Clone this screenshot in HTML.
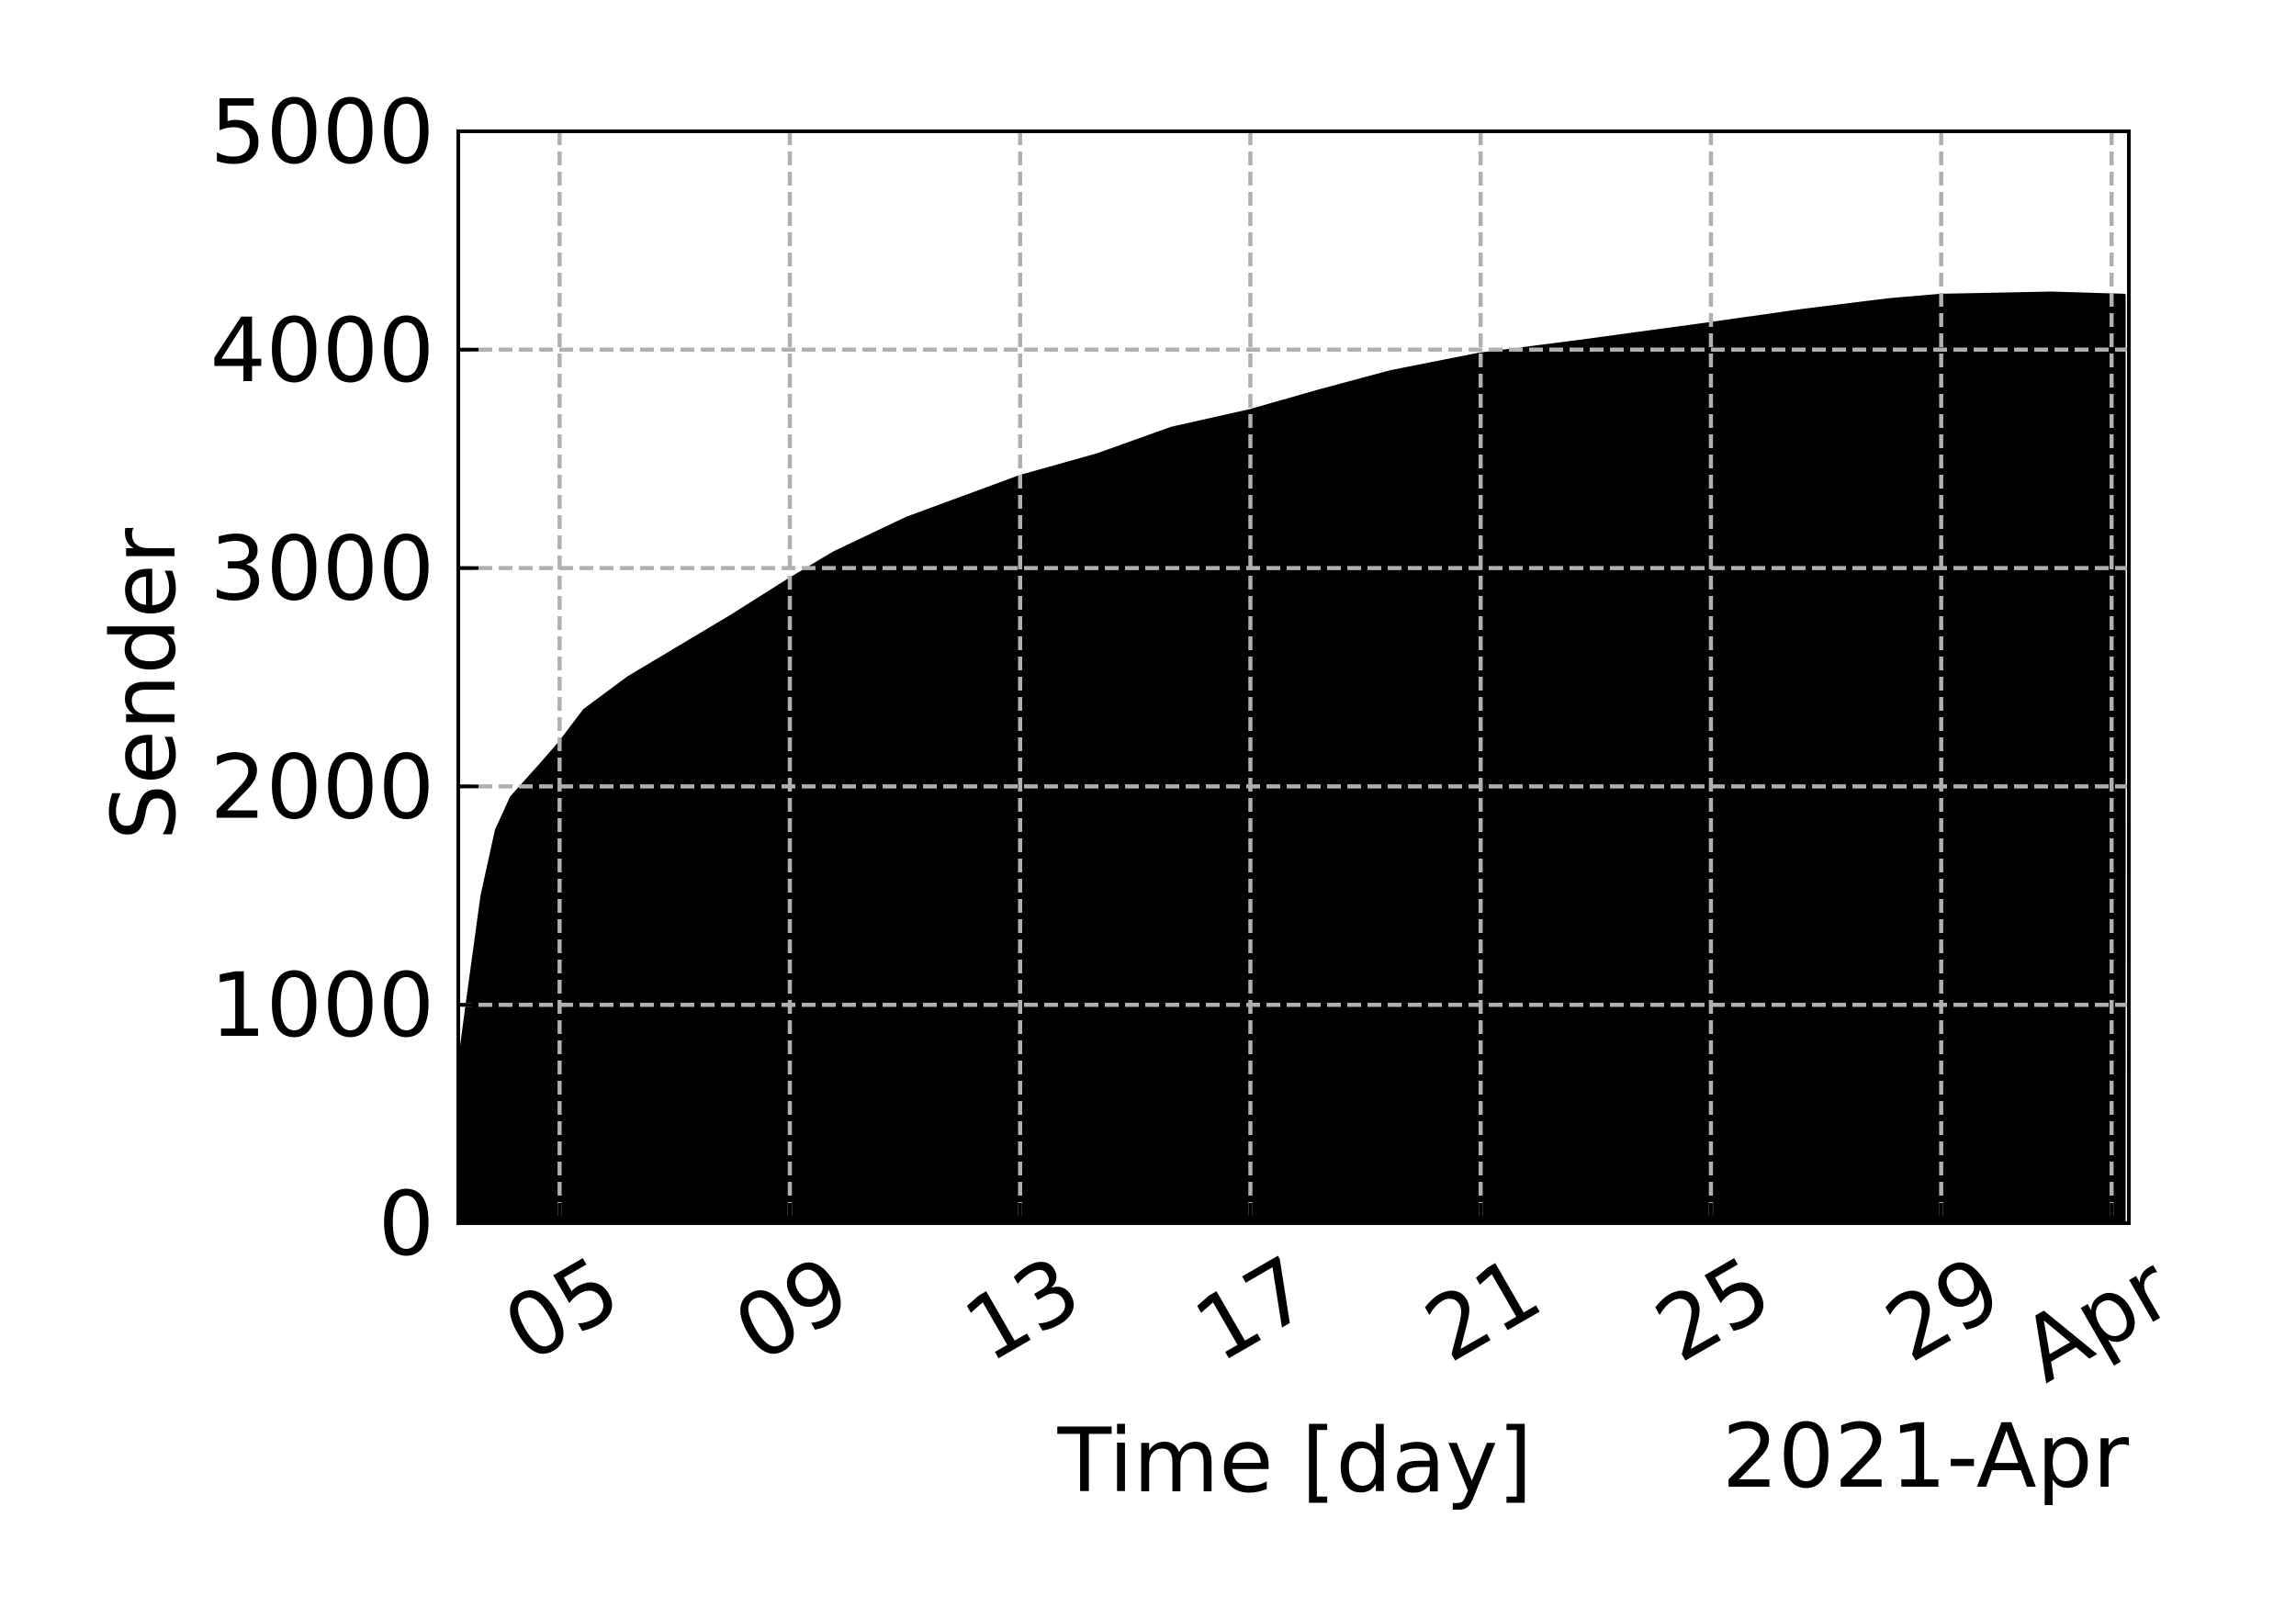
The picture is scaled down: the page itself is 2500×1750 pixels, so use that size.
<!DOCTYPE html>
<html><head><meta charset="utf-8"><style>
html,body{margin:0;padding:0;background:#fff}
svg{display:block}
text{font-family:"DejaVu Sans","Liberation Sans",sans-serif;fill:#000}
</style></head><body>
<svg id="chart" width="2500" height="1750" viewBox="0 0 2500 1750" xmlns="http://www.w3.org/2000/svg">
<g id="plot"></g>
</svg>
<script>
// data: day of April 2021 (fractional) and cumulative sender counts
const days = [3.24,3.29,3.39,3.65,3.90,4.16,4.67,5.0,5.43,6.20,6.96,7.98,9.0,9.76,11.04,13.0,14.35,15.62,16.97,18.17,19.44,20.97,22.76,24.97,26.58,28.11,29.0,30.91,32.18];
const senders = [750,800,1000,1500,1800,1950,2100,2200,2350,2500,2620,2780,2950,3070,3230,3420,3520,3640,3720,3810,3900,3980,4040,4120,4180,4230,4250,4260,4250];
const yTicks = [0,1000,2000,3000,4000,5000];
const xTickDays = [5,9,13,17,21,25,29,31.96];
const xTickLabels = ["05","09","13","17","21","25","29","Apr"];

const L=499,R=2318,T=143,B=1332;
const dMin=3.24,dMax=32.26;
const sx=d=>L+(d-dMin)/(dMax-dMin)*(R-L);
const sy=v=>B-v/5000*(B-T);
const NS="http://www.w3.org/2000/svg";
const g=document.getElementById('plot');
function mk(tag,attrs,parent){const e=document.createElementNS(NS,tag);for(const k in attrs)e.setAttribute(k,attrs[k]);(parent||g).appendChild(e);return e;}

// area
let d=`M${sx(days[0])},${sy(0)}`;
days.forEach((x,i)=>{d+=` L${sx(x).toFixed(1)},${sy(senders[i]).toFixed(1)}`;});
d+=` L${sx(days[days.length-1])},${sy(0)} Z`;
const area=mk('path',{d:d,fill:'#000',stroke:'#000','stroke-width':3,'stroke-linejoin':'round'});



// grid
yTicks.forEach(v=>{
  if(v===0||v===5000)return;
  const l=mk('line',{x1:L,x2:R,y1:sy(v),y2:sy(v),stroke:'#b0b0b0','stroke-width':4.5,'stroke-dasharray':'15 7'});
  
  
});
xTickDays.forEach(t=>{
  const l=mk('line',{x1:sx(t),x2:sx(t),y1:T,y2:B,stroke:'#b0b0b0','stroke-width':4.5,'stroke-dasharray':'15 7'});
  
  
});

// frame
const fr=mk('rect',{x:L,y:T,width:R-L,height:B-T,fill:'none',stroke:'#000','stroke-width':4});



// y ticks
yTicks.forEach(v=>{
  const tk=mk('line',{x1:L,x2:L+22,y1:sy(v),y2:sy(v),stroke:'#000','stroke-width':4});
  
  
  const t=mk('text',{x:473,y:sy(v)+34,'text-anchor':'end','font-size':96});
  t.textContent=v;
  
  
});
// x ticks
xTickDays.forEach((td,i)=>{
  const x=sx(td);
  const tk=mk('line',{x1:x,x2:x,y1:B,y2:B-22,stroke:'#000','stroke-width':4});
  
  
  const tx=x+72,ty=1424;
  const t=mk('text',{x:tx,y:ty,'text-anchor':'end','font-size':96,transform:`rotate(-30 ${tx} ${ty})`});
  t.textContent=xTickLabels[i];
  
  
});

const xt=mk('text',{x:1410,y:1624,'text-anchor':'middle','font-size':96});
xt.textContent='Time [day]';


const off=mk('text',{x:2318,y:1619,'text-anchor':'end','font-size':96});
off.textContent='2021-Apr';


const yt=mk('text',{x:190,y:745,'text-anchor':'middle','font-size':96,transform:'rotate(-90 190 745)'});
yt.textContent='Sender';


</script>
</body></html>
